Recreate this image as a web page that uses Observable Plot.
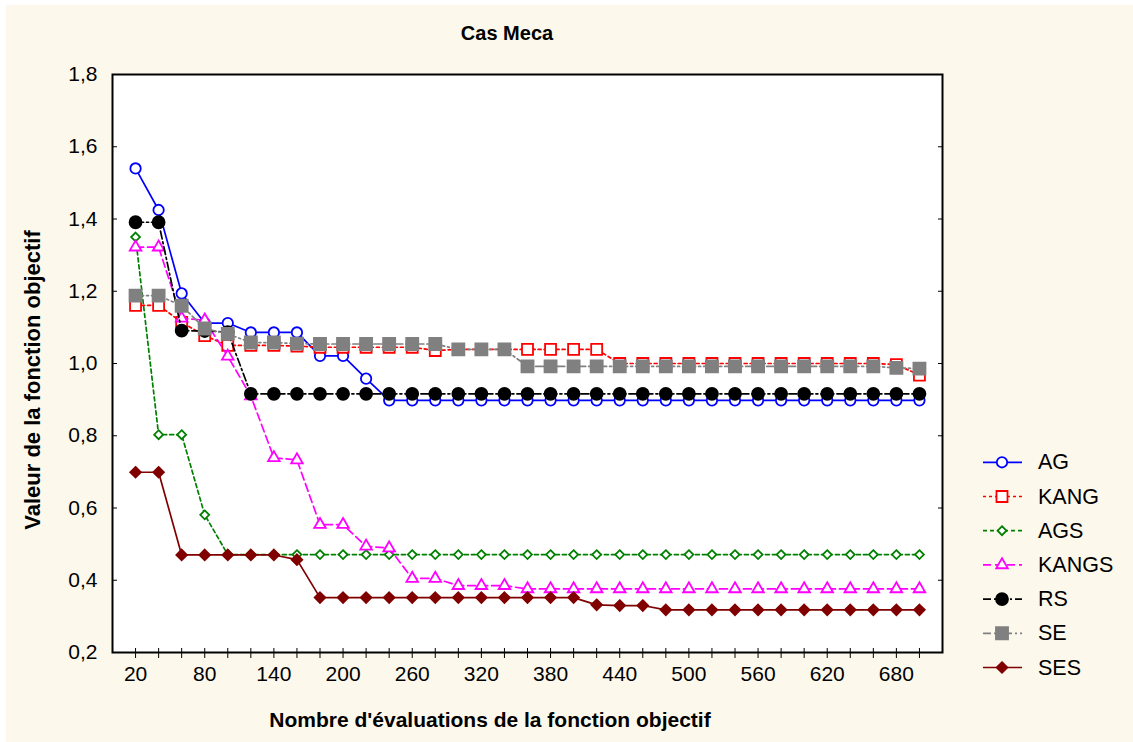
<!DOCTYPE html>
<html><head><meta charset="utf-8">
<script src="https://cdn.jsdelivr.net/npm/d3@7"></script>
<script src="https://cdn.jsdelivr.net/npm/@observablehq/plot@0.6"></script>
<style>
html,body{margin:0;padding:0;background:#fff;}
#wrap{position:relative;width:1133px;height:742px;overflow:hidden;}
#bg{position:absolute;left:6px;top:5px;right:0;bottom:0;background:#fdf8ec;}
#chart{position:absolute;left:0;top:0;}
#overlay{position:absolute;left:0;top:0;}
</style></head><body>
<div id="wrap"><div id="bg"></div><div id="chart"></div><svg id="overlay" width="1133" height="742"></svg></div>
<script>
// ---- data ----
const evals = [20,40,60,80,100,120,140,160,180,200,220,240,260,280,300,320,340,360,380,400,420,440,460,480,500,520,540,560,580,600,620,640,660,680,700];
const AG    = [1.54,1.425,1.194,1.112,1.112,1.086,1.086,1.086,1.021,1.021,0.958,0.898,0.898,0.898,0.898,0.898,0.898,0.898,0.898,0.898,0.898,0.898,0.898,0.898,0.898,0.898,0.898,0.898,0.898,0.898,0.898,0.898,0.898,0.898,0.898];
const KANG  = [1.161,1.161,1.114,1.077,1.05,1.05,1.05,1.048,1.045,1.045,1.045,1.045,1.045,1.036,1.039,1.039,1.039,1.039,1.039,1.039,1.039,1.0,1.0,1.0,1.0,1.0,1.0,1.0,1.0,1.0,1.0,1.0,1.0,0.997,0.968];
const AGS   = [1.35,0.803,0.803,0.581,0.471,0.471,0.471,0.471,0.471,0.471,0.471,0.471,0.471,0.471,0.471,0.471,0.471,0.471,0.471,0.471,0.471,0.471,0.471,0.471,0.471,0.471,0.471,0.471,0.471,0.471,0.471,0.471,0.471,0.471,0.471];
const KANGS = [1.322,1.322,1.125,1.12,1.02,0.91,0.739,0.733,0.554,0.554,0.494,0.489,0.405,0.405,0.385,0.385,0.385,0.376,0.376,0.376,0.376,0.376,0.376,0.376,0.376,0.376,0.376,0.376,0.376,0.376,0.376,0.376,0.376,0.376,0.376];
const RS    = [1.391,1.391,1.091,1.09,1.087,0.916,0.916,0.916,0.916,0.916,0.916,0.916,0.916,0.916,0.916,0.916,0.916,0.916,0.916,0.916,0.916,0.916,0.916,0.916,0.916,0.916,0.916,0.916,0.916,0.916,0.916,0.916,0.916,0.916,0.916];
const SE    = [1.188,1.188,1.16,1.097,1.082,1.058,1.058,1.055,1.054,1.054,1.054,1.054,1.054,1.054,1.039,1.039,1.039,0.992,0.992,0.992,0.992,0.992,0.992,0.992,0.992,0.992,0.992,0.992,0.992,0.992,0.992,0.992,0.992,0.988,0.986];
const SES   = [0.699,0.699,0.47,0.47,0.47,0.47,0.47,0.457,0.352,0.352,0.352,0.352,0.352,0.352,0.352,0.352,0.352,0.352,0.352,0.352,0.332,0.330,0.330,0.318,0.318,0.318,0.318,0.318,0.318,0.318,0.318,0.318,0.318,0.318,0.318];
const seriesNames = ["AG","KANG","AGS","KANGS","RS","SE","SES"];
const yTicks = [0.2,0.4,0.6,0.8,1.0,1.2,1.4,1.6,1.8];
const xTickLabels = [20,80,140,200,260,320,380,440,500,560,620,680];
const titleText = "Cas Meca";
const xLabel = "Nombre d'évaluations de la fonction objectif";
const yLabel = "Valeur de la fonction objectif";

// ---- styles ----
const values = {AG, KANG, AGS, KANGS, RS, SE, SES};
const styles = {
  AG:    {color:"#0000ff", symbol:"circle",   fill:"white",   r:5.2, dash:null},
  KANG:  {color:"#ff0000", symbol:"square",   fill:"white",   r:6.2, dash:"3,3"},
  AGS:   {color:"#008000", symbol:"diamond2", fill:"white",   r:4,   dash:"4,3"},
  KANGS: {color:"#ff00ff", symbol:"triangle", fill:"white",   r:4.3, dash:"8,4"},
  RS:    {color:"#000000", symbol:"circle",   fill:"#000000", r:6,   dash:"8,3,2,3"},
  SE:    {color:"#808080", symbol:"square",   fill:"#808080", r:6.8, dash:"8,3,2,3,2,3"},
  SES:   {color:"#800000", symbol:"diamond2", fill:"#800000", r:4.8, dash:null}
};
const rows = seriesNames.flatMap(name => evals.map((x, i) => ({series:name, x, y: values[name][i]})));
const fmt = d => d.toFixed(1).replace(".", ",");
const FONT = "Liberation Sans, Arial, sans-serif";

const seriesMarks = seriesNames.flatMap(name => {
  const s = styles[name];
  const data = rows.filter(d => d.series === name);
  return [
    Plot.line(data, {x:"x", y:"y", stroke:s.color, strokeWidth:1.7, strokeDasharray:s.dash}),
    Plot.dot(data, {x:"x", y:"y", symbol:s.symbol, r:s.r, stroke:s.color, fill:s.fill, strokeWidth:1.8})
  ];
});

const plot = Plot.plot({
  width:1133, height:742,
  marginLeft:112, marginRight:191, marginTop:74, marginBottom:90,
  style:{background:"transparent", fontFamily:FONT, fontSize:"21px", color:"black", overflow:"visible"},
  x:{domain:[0,720]},
  y:{domain:[0.2,1.8]},
  marks:[
    Plot.frame({fill:"white", stroke:null}),
    Plot.axisY(yTicks, {anchor:"left", tickSize:0, tickPadding:15, tickFormat:fmt, label:null, fontSize:21}),
    Plot.axisY(yTicks, {anchor:"left", tickSize:-5, fill:"none", label:null}),
    Plot.axisY(yTicks, {anchor:"right", tickSize:-5, fill:"none", label:null}),
    Plot.axisX(evals, {anchor:"bottom", tickSize:6, fill:"none", label:null}),
    Plot.axisX(evals, {anchor:"bottom", tickSize:-4, fill:"none", label:null}),
    Plot.axisX(xTickLabels, {anchor:"bottom", tickSize:0, tickPadding:14, label:null, fontSize:21}),
    ...seriesMarks,
    Plot.frame({stroke:"black", strokeWidth:2})
  ]
});
document.getElementById("chart").appendChild(plot);

// ---- titles & legend ----
const ov = d3.select("#overlay").style("font-family", FONT);
ov.append("text").attr("x", 507).attr("y", 33).attr("text-anchor","middle").attr("dominant-baseline","central")
  .attr("font-weight","bold").attr("font-size",20).text(titleText);
ov.append("text").attr("x", 490).attr("y", 719).attr("text-anchor","middle").attr("dominant-baseline","central")
  .attr("font-weight","bold").attr("font-size",21).text(xLabel);
ov.append("text").attr("transform","translate(40,380) rotate(-90)").attr("text-anchor","middle")
  .attr("font-weight","bold").attr("font-size",22).text(yLabel);

const symMap = {circle:d3.symbolCircle, square:d3.symbolSquare, diamond2:d3.symbolDiamond2, triangle:d3.symbolTriangle};
seriesNames.forEach((name, i) => {
  const s = styles[name];
  const y = 462.3 + i * 34.2;
  const g = ov.append("g").attr("transform", `translate(0,${y})`);
  g.append("line").attr("x1",983).attr("x2",1022).attr("y1",0).attr("y2",0)
    .attr("stroke", s.color).attr("stroke-width",1.7).attr("stroke-dasharray", s.dash);
  g.append("path").attr("transform","translate(1002,0)")
    .attr("d", d3.symbol(symMap[s.symbol], Math.PI * s.r * s.r)())
    .attr("fill", s.fill).attr("stroke", s.color).attr("stroke-width",1.8);
  g.append("text").attr("x",1038).attr("y",0).attr("dominant-baseline","central")
    .attr("font-size",21.5).text(name);
});
</script>
</body></html>
